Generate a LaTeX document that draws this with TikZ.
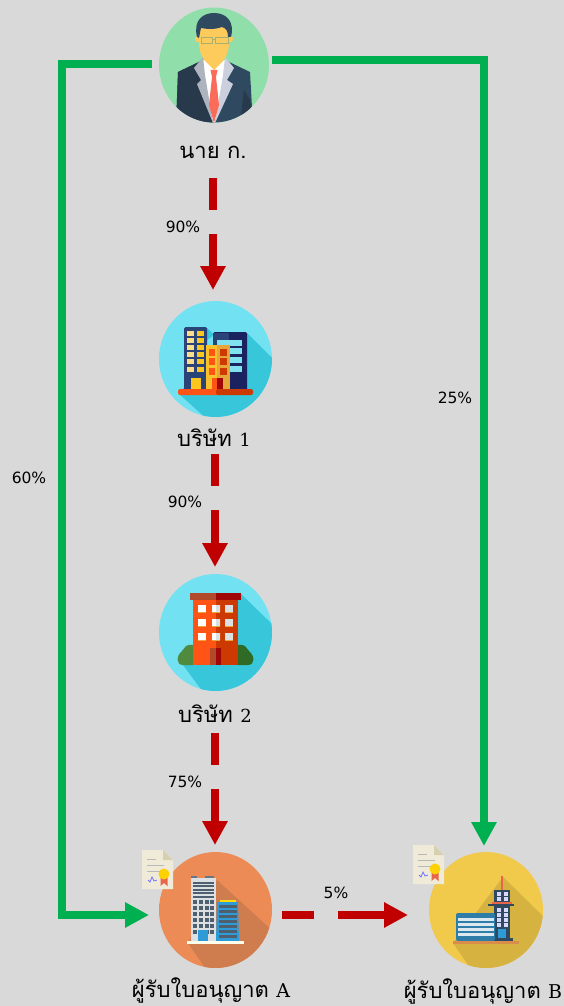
\documentclass[tikz,border=0pt]{standalone}
\usepackage{fontspec}
\setmainfont{DejaVu Serif}
\setsansfont{DejaVu Sans}
\newfontfamily\thaifont[Script=Thai]{Loma}
\usetikzlibrary{arrows.meta,shapes.geometric}
\definecolor{bgc}{HTML}{D9D9D9}
\definecolor{gline}{HTML}{00B050}
\definecolor{rline}{HTML}{C00000}
\definecolor{mint}{HTML}{90DFAA}
\definecolor{sky}{HTML}{72E1F1}
\definecolor{skyd}{HTML}{38C6DA}
\definecolor{orc}{HTML}{EC8B56}
\definecolor{orcd}{HTML}{CF7C4E}
\definecolor{yel}{HTML}{F1C94B}
\definecolor{yeld}{HTML}{D6B241}
\definecolor{navy}{HTML}{1B2260}
\definecolor{navyl}{HTML}{2B4478}
\definecolor{brick}{HTML}{FF5415}
\definecolor{brickd}{HTML}{CC3A02}
\definecolor{roofa}{HTML}{B04A2A}
\definecolor{roofb}{HTML}{A00808}
\definecolor{suit}{HTML}{2F4A60}
\definecolor{suitd}{HTML}{28394C}
\definecolor{skin}{HTML}{FDCB5C}
\definecolor{paper}{HTML}{EFEBD8}
\definecolor{fold}{HTML}{D6CFB0}
\definecolor{lapa}{HTML}{AEB4BD}
\definecolor{lapb}{HTML}{CBD0DC}
\definecolor{tie}{HTML}{FB6B5A}
\definecolor{wina}{HTML}{FBDC8C}
\definecolor{winb}{HTML}{FBC61E}
\definecolor{towa}{HTML}{FAC22A}
\definecolor{towb}{HTML}{E8A53A}
\definecolor{winc}{HTML}{80E2EE}
\definecolor{busha}{HTML}{4F8A3F}
\definecolor{bushb}{HTML}{2F6B25}
\definecolor{glass}{HTML}{A8B070}
\definecolor{stone}{HTML}{DDE0E3}
\definecolor{dgrid}{HTML}{4E6070}
\definecolor{bluet}{HTML}{2E9BD6}
\definecolor{sand}{HTML}{D98D4A}
\definecolor{coral}{HTML}{E8654A}
\definecolor{stripe}{HTML}{DCE8F0}
\definecolor{bluew}{HTML}{2D7DA8}
\tikzset{
  disc/.style n args={2}{ellipse,minimum width=#1,minimum height=#2,inner sep=0pt,outer sep=0pt},
  lbl/.style={font=\fontsize{22}{24}\selectfont\thaifont,text=black,inner sep=0pt},
  pct/.style={font=\fontsize{15.5}{17}\selectfont\sffamily,text=black,inner sep=0pt},
  greenln/.style={draw=gline,line width=8pt,line join=miter},
  redln/.style={draw=rline,line width=8pt},
  greentip/.style={-{Triangle[length=24pt,width=24pt]}},
  redtip/.style={-{Triangle[length=24pt,width=24pt]}},
  cert/.pic={
    \fill[paper] (0,0)--(21,0)--(31,10)--(31,39)--(0,39)--cycle;
    \fill[fold] (21,0)--(31,10)--(21,10)--cycle;
    \foreach \yy/\xe in {9/14,15/22,21/26}{\draw[gray!55,line width=.8pt] (5,\yy)--(\xe,\yy);}
    \draw[blue!55,line width=.8pt] (6,30)--(8,32)--(10,27)--(12,31)--(15,30);
    \fill[coral] (18.5,26)--(25.5,26)--(25.5,36)--(22,33)--(18.5,36)--cycle;
    \fill[yellow!70!orange] (22,24) circle (5.5);
  }
}
\begin{document}
\begin{tikzpicture}[x=1pt,y=-1pt]
\useasboundingbox (0,0) rectangle (564,1006);
\fill[bgc] (0,0) rectangle (564,1006);

% ---- discs
\node[disc={110pt}{115pt},fill=mint] (boss) at (214,65) {};
\node[disc={113pt}{116pt},fill=sky] (co1) at (215.5,359) {};
\node[disc={113pt}{117pt},fill=sky] (co2) at (215.5,632.5) {};
\node[disc={113pt}{116pt},fill=orc] (lica) at (215.5,910) {};
\node[disc={114pt}{116pt},fill=yel] (licb) at (486,910) {};

% ---- man
\begin{scope}
\clip (214,65) ellipse (55 and 57.5);
\fill[suit] (176,125)--(178,72)--(203,60)--(225,60)--(250,72)--(253,125)--cycle;
\fill[suitd] (176,125)--(178,72)--(203,60)--(214,122)--(214,125)--cycle;
\fill[suitd] (253,125)--(250,100)--(244,90)--(240,125)--cycle;
\fill[white] (203,60)--(225,60)--(225,90)--(214,125)--(203,90)--cycle;
\fill[lapa] (203,57)--(194,68)--(201,80)--(197,84)--(213,123)--(205,75)--cycle;
\fill[lapb] (225,57)--(234,68)--(227,80)--(233,84)--(215,123)--(223,75)--cycle;
\fill[skin] (204,52)--(224,52)--(224,60)--(214,70)--(204,60)--cycle;
\fill[tie] (210.5,70)--(217.5,70)--(216,77)--(219,105)--(214,123)--(209,105)--(212,77)--cycle;
\fill[skin] (198,39) circle (3.2); \fill[skin] (230,39) circle (3.2);
\fill[skin] (199,22) rectangle (229,46);
\fill[skin] (199,45) .. controls (200,58) and (208,65) .. (214,65) .. controls (220,65) and (228,58) .. (229,45) -- cycle;
\fill[suit] (197,37) .. controls (193,20) and (203,13) .. (214,13) .. controls (226,13) and (235,21) .. (231,37)
  -- (228,37) .. controls (228,31) and (226,28) .. (222,27) .. controls (214,30) and (206,29) .. (201,28) .. controls (200,31) and (200,34) .. (199,38) -- cycle;
\draw[glass,line width=.9pt] (201,37) rectangle (212.5,43.5) (215.5,37) rectangle (228,43.5) (212.5,39)--(215.5,39);
\end{scope}

% ---- company 1
\begin{scope}
\clip (215.5,359) ellipse (56.5 and 58);
\fill[skyd] (247,333)--(276,362)--(276,420)--(208,420)--(178,393)--cycle;
\fill[skyd] (207,328)--(214,335)--(207,340)--cycle;
\fill[navyl,rounded corners=1.5pt] (184,327) rectangle (207,391);
\fill[navy,rounded corners=1.5pt] (213,332) rectangle (247,391);
\fill[navyl] (213,333) rectangle (229,391);
\foreach \yy in {331,338,345,352,359,367}{
  \fill[wina] (187,\yy) rectangle (194,\yy+5);
  \fill[winb] (197,\yy) rectangle (204,\yy+5);}
\foreach \yy in {340,348,357,366}{\fill[winc] (217,\yy) rectangle (242,\yy+6);}
\fill[winb] (191,378) rectangle (201,390);
\fill[towa] (206,345) rectangle (217,390);
\fill[towb] (217,345) rectangle (230,390);
\foreach \yy in {349,358,368}{
  \fill[brick] (209,\yy) rectangle (215,\yy+7);
  \fill[brickd] (220,\yy) rectangle (227,\yy+7);}
\fill[brick] (212,378) rectangle (217,390);
\fill[roofb] (217,378) rectangle (223,390);
\fill[brick,rounded corners=2pt] (178,389) rectangle (220,395);
\fill[brickd,rounded corners=2pt] (216,389) rectangle (253,395);
\end{scope}

% ---- company 2
\begin{scope}
\clip (215.5,632.5) ellipse (56.5 and 58.5);
\fill[skyd] (240,593)--(276,628)--(276,700)--(209,700)--(183,665)--cycle;
\fill[busha] (193,665) -- (183,665) .. controls (176,665) and (176,656) .. (182,651) -- (186,646) .. controls (188,644) and (191,645) .. (193,645) -- cycle;
\fill[bushb] (238,665) -- (248,665) .. controls (255,665) and (255,656) .. (249,651) -- (245,646) .. controls (243,644) and (240,645) .. (238,645) -- cycle;
\fill[brick] (193,598) rectangle (216,665);
\fill[brickd] (216,598) rectangle (238,665);
\fill[roofa] (190,593) rectangle (216,600);
\fill[roofb] (216,593) rectangle (241,600);
\foreach \xx/\cc in {198/white,212/white,225/stone}{
 \foreach \yy in {605,619,633}{
  \fill[towb] (\xx,\yy) rectangle (\xx+8,\yy+8);
  \fill[\cc] (\xx,\yy) rectangle (\xx+8,\yy+7);}}
\fill[stone] (216,605) rectangle (220,612) (216,619) rectangle (220,626) (216,633) rectangle (220,640);
\fill[roofa] (210,648) rectangle (216,665);
\fill[roofb] (216,648) rectangle (221,665);
\end{scope}

% ---- licensee A
\begin{scope}
\clip (215.5,910) ellipse (56.5 and 58);
\fill[orcd] (217,880)--(276,934)--(276,975)--(210,975)--(188,943)--cycle;
\fill[stone] (191,878) rectangle (216,941);
\fill[suit!75] (191,876) rectangle (197,878);
\fill[suit!75] (205,876) rectangle (214,878);
\foreach \yy in {881.5,885,888.5,892,895.5}{\fill[dgrid] (193,\yy) rectangle (214,\yy+2);}
\foreach \xx in {193,199,205,210}{\foreach \yy in {900,906,912,918,924,930}{\fill[dgrid] (\xx,\yy) rectangle (\xx+3.8,\yy+4);}}
\fill[bluet] (198,930) rectangle (208,941);
\fill[bluet] (217,902) -- (238,902) -- (239,941) -- (216,941) -- cycle;
\fill[yellow!80!orange] (220,900) rectangle (236,902);
\foreach \yy in {905,910,915,920,925,930,935}{\fill[dgrid] (219,\yy) rectangle (237,\yy+2.5);}
\fill[white!92!yellow] (187,941) rectangle (244,944);
\end{scope}

% ---- licensee B
\begin{scope}
\clip (486,910) ellipse (57 and 58);
\fill[yeld] (503,877)--(546,919)--(546,975)--(475,975)--(453,943)--cycle;
\fill[coral] (501,876) rectangle (503,890);
\fill[suit] (494,890) rectangle (510,938);
\fill[suit] (490,938) rectangle (513,941);
\fill[suit] (488,904) rectangle (514,906);
\fill[coral] (492,902) rectangle (512,904);
\foreach \xx in {497,504}{\foreach \yy in {892,897,908,913,918,923}{\fill[white!85!blue] (\xx,\yy) rectangle (\xx+4,\yy+3.5);}}
\fill[bluet] (498,929) rectangle (506,938);
\fill[bluew,rounded corners=2pt] (456,913) rectangle (495,941);
\foreach \yy in {918,923,928,933}{\fill[stripe] (458,\yy) rectangle (494,\yy+3);}
\fill[sand] (453,941) rectangle (519,944);
\end{scope}

% ---- certificates
\pic at (142,850) {cert};
\pic at (413,845) {cert};

% ---- labels
\node[lbl] (tboss) at (213,152) {นาย ก.};
\node[lbl] (tco1) at (214,438) {บริษัท {\rmfamily\fontsize{18}{20}\selectfont 1}};
\node[lbl] (tco2) at (215,714) {บริษัท {\rmfamily\fontsize{18}{20}\selectfont 2}};
\node[lbl] (tlica) at (211,990) {ผู้รับใบอนุญาต {\rmfamily\fontsize{19}{20}\selectfont A}};
\node[lbl] (tlicb) at (483,991) {ผู้รับใบอนุญาต {\rmfamily\fontsize{19}{20}\selectfont B}};
\node[pct] (p1) at (183,227) {90\%};
\node[pct] (p2) at (185,502) {90\%};
\node[pct] (p3) at (185,782) {75\%};
\node[pct] (p4) at (336,893) {5\%};
\node[pct] (p5) at (29,478) {60\%};
\node[pct] (p6) at (455,398) {25\%};

% ---- red connectors
\coordinate (r1a) at (213,178); \coordinate (r1b) at (213,210);
\coordinate (r1c) at (213,234); \coordinate (r1d) at (213,290);
\coordinate (r2a) at (215,454); \coordinate (r2b) at (215,486);
\coordinate (r2c) at (215,510); \coordinate (r2d) at (215,567);
\coordinate (r3a) at (215,733); \coordinate (r3b) at (215,765);
\coordinate (r3c) at (215,789); \coordinate (r3d) at (215,845);
\coordinate (r4a) at (282,915); \coordinate (r4b) at (314,915);
\coordinate (r4c) at (338,915); \coordinate (r4d) at (408,915);
\draw[redln] (r1a)--(r1b);
\draw[redln,redtip] (r1c)--(r1d);
\draw[redln] (r2a)--(r2b);
\draw[redln,redtip] (r2c)--(r2d);
\draw[redln] (r3a)--(r3b);
\draw[redln,redtip] (r3c)--(r3d);
\draw[redln] (r4a)--(r4b);
\draw[redln,redtip] (r4c)--(r4d);

% ---- green connectors
\coordinate (g1a) at (152,64); \coordinate (g1b) at (61.5,64); \coordinate (g1c) at (61.5,915); \coordinate (g1d) at (149,915);
\coordinate (g2a) at (272,60); \coordinate (g2b) at (484,60); \coordinate (g2c) at (484,846);
\draw[greenln,greentip] (g1a)--(g1b)--(g1c)--(g1d);
\draw[greenln,greentip] (g2a)--(g2b)--(g2c);
\end{tikzpicture}
\end{document}
